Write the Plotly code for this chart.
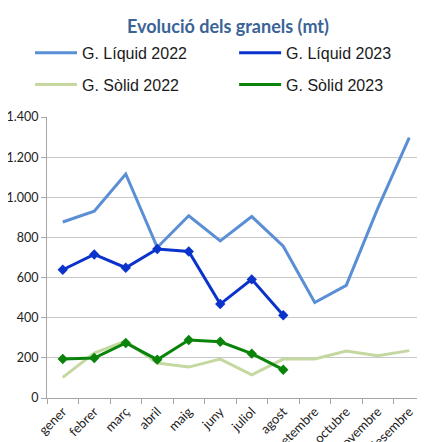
import plotly.graph_objects as go

months = ["gener", "febrer", "març", "abril", "maig", "juny", "juliol", "agost",
          "setembre", "octubre", "novembre", "desembre"]
liquid_2022 = [877, 931, 1116, 750, 908, 783, 904, 756, 476, 561, 945, 1297]
liquid_2023 = [639, 715, 649, 742, 730, 468, 591, 412]
solid_2022 = [103, 224, 284, 174, 154, 194, 116, 194, 194, 234, 211, 236]
solid_2023 = [194, 199, 274, 191, 289, 280, 221, 141]
y_ticks = [0, 200, 400, 600, 800, 1000, 1200, 1400]

C_L22 = "#5A8FD5"
C_L23 = "#0A33CC"
C_S22 = "#C4D8A0"
C_S23 = "#0A830A"

fig = go.Figure()
fig.add_trace(go.Scatter(x=months, y=liquid_2022, mode="lines",
                         line=dict(color=C_L22, width=3), showlegend=False))
fig.add_trace(go.Scatter(x=months, y=solid_2022, mode="lines",
                         line=dict(color=C_S22, width=3), showlegend=False))
fig.add_trace(go.Scatter(x=months[:len(liquid_2023)], y=liquid_2023, mode="lines+markers",
                         line=dict(color=C_L23, width=3),
                         marker=dict(symbol="diamond", size=8, color=C_L23), showlegend=False))
fig.add_trace(go.Scatter(x=months[:len(solid_2023)], y=solid_2023, mode="lines+markers",
                         line=dict(color=C_S23, width=3),
                         marker=dict(symbol="diamond", size=8, color=C_S23), showlegend=False))

# legend entries (lines only, as in the reference), one legend per entry for a 2x2 grid
entries = [("G. Líquid 2022", C_L22, "legend"), ("G. Líquid 2023", C_L23, "legend2"),
           ("G. Sòlid 2022", C_S22, "legend3"), ("G. Sòlid 2023", C_S23, "legend4")]
for name, col, lg in entries:
    fig.add_trace(go.Scatter(x=[None], y=[None], mode="lines", name=name,
                             line=dict(color=col, width=3), legend=lg))

legend_common = dict(orientation="h", xanchor="left", yanchor="middle", itemwidth=42,
                     font=dict(family="Liberation Sans", size=16, color="#1A1A1A"),
                     bgcolor="rgba(0,0,0,0)", itemclick=False)
col_x = [-0.045, 0.495]
row_y = [1.228, 1.115]

# the page body adds an 8px offset, so the figure is 8px smaller than the window
W, H = 417, 434
fig.update_layout(
    width=W, height=H,
    margin=dict(l=39, r=0, t=109, b=44, autoexpand=False),
    paper_bgcolor="white", plot_bgcolor="white",
    separators=",.",
    title=dict(text="<b>Evolució dels granels (mt)</b>", x=220 / W, xanchor="center",
               xref="container", y=1 - 19 / H, yanchor="middle", yref="container",
               font=dict(family="Lato", size=18, color="#3A6496")),
    legend=dict(x=col_x[0], y=row_y[0], **legend_common),
    legend2=dict(x=col_x[1], y=row_y[0], **legend_common),
    legend3=dict(x=col_x[0], y=row_y[1], **legend_common),
    legend4=dict(x=col_x[1], y=row_y[1], **legend_common),
    xaxis=dict(type="category", range=[-0.5, 11.5], tickangle=-45,
               ticks="outside", tickson="boundaries", ticklen=5, tickcolor="#A6A6A6",
               showline=True, linecolor="#A6A6A6", linewidth=1, showgrid=False,
               automargin=False,
               tickfont=dict(family="Lato", size=13, color="#222222")),
    yaxis=dict(range=[0, 1400], tickvals=y_ticks, tickformat=",d",
               ticks="outside", ticklen=5, tickcolor="#A6A6A6",
               showline=True, linecolor="#A6A6A6", linewidth=1, automargin=False,
               showgrid=True, gridcolor="#C8C8C8", gridwidth=1, zeroline=False,
               tickfont=dict(family="Lato", size=12.5, color="#222222")),
)

fig.write_html("out.html")
